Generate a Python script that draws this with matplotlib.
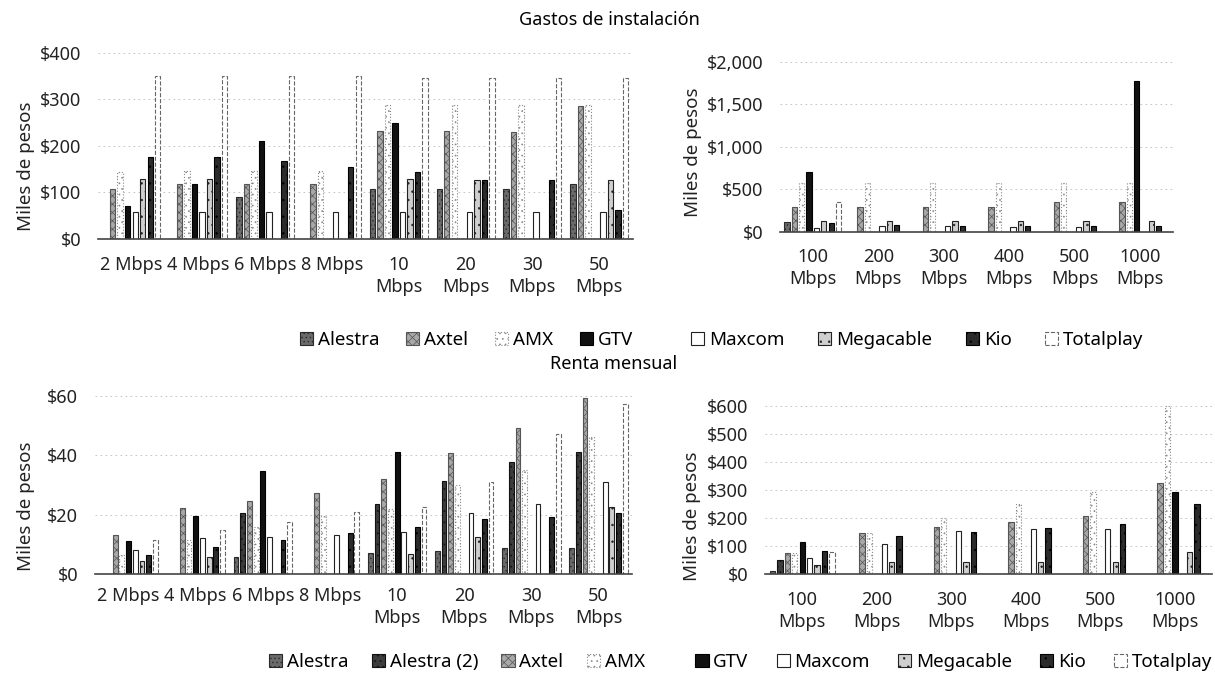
import matplotlib
matplotlib.use("Agg")
from matplotlib import pyplot as plt
from matplotlib.patches import Patch
from matplotlib.ticker import FuncFormatter
import numpy as np

plt.rcParams['font.family'] = ['Noto Sans', 'DejaVu Sans']
plt.rcParams['hatch.linewidth'] = 0.5

# Gastos de instalacion, velocidades bajas
inst_cats_low = ['2 Mbps', '4 Mbps', '6 Mbps', '8 Mbps', '10\nMbps', '20\nMbps', '30\nMbps', '50\nMbps']
inst_low_alestra = [0, 0, 91, 0, 107, 107, 107, 118]
inst_low_axtel = [107, 118, 118, 118, 233, 233, 231, 285]
inst_low_amx = [145, 147, 147, 147, 289, 289, 289, 289]
inst_low_gtv = [70, 118, 211, 0, 249, 0, 0, 0]
inst_low_maxcom = [59, 59, 57, 57, 57, 57, 57, 57]
inst_low_megacable = [128, 128, 0, 0, 128, 127, 0, 127]
inst_low_kio = [176, 176, 167, 154, 145, 127, 127, 62]
inst_low_totalplay = [350, 350, 350, 350, 346, 346, 346, 346]

# Gastos de instalacion, velocidades altas
inst_cats_high = ['100\nMbps', '200\nMbps', '300\nMbps', '400\nMbps', '500\nMbps', '1000\nMbps']
inst_high_alestra = [118, 0, 0, 0, 0, 0]
inst_high_axtel = [294, 294, 294, 294, 345, 345]
inst_high_amx = [576, 576, 576, 576, 576, 576]
inst_high_gtv = [706, 0, 0, 0, 0, 1776]
inst_high_maxcom = [47, 67, 67, 59, 59, 0]
inst_high_megacable = [129, 129, 129, 129, 129, 129]
inst_high_kio = [106, 78, 70, 70, 70, 70]
inst_high_totalplay = [345, 0, 0, 0, 0, 0]

# Renta mensual, velocidades bajas
renta_cats_low = inst_cats_low
renta_low_alestra = [0, 0, 5.8, 0, 7.0, 7.9, 8.9, 8.9]
renta_low_alestra2 = [0, 0, 20.6, 0, 23.6, 31.4, 37.8, 40.9]
renta_low_axtel = [13.1, 22.1, 24.7, 27.1, 32.0, 40.6, 49.2, 59.1]
renta_low_amx = [6.4, 11.4, 15.9, 19.5, 21.9, 29.9, 35.0, 46.2]
renta_low_gtv = [11.2, 19.5, 34.8, 0, 41.2, 0, 0, 0]
renta_low_maxcom = [8.1, 12.0, 12.6, 13.3, 14.2, 20.6, 23.6, 31.1]
renta_low_megacable = [4.5, 5.8, 0, 0, 6.7, 12.6, 0, 22.7]
renta_low_kio = [6.4, 9.0, 11.4, 13.9, 15.9, 18.5, 19.3, 20.4]
renta_low_totalplay = [11.4, 14.8, 17.6, 21.0, 22.7, 31.1, 47.0, 57.2]

# Renta mensual, velocidades altas
renta_cats_high = inst_cats_high
renta_high_alestra = [13, 0, 0, 0, 0, 0]
renta_high_alestra2 = [51, 0, 0, 0, 0, 0]
renta_high_axtel = [77, 146, 170, 188, 208, 324]
renta_high_amx = [77, 146, 200, 251, 295, 600]
renta_high_gtv = [116, 0, 0, 0, 0, 295]
renta_high_maxcom = [57, 108, 154, 160, 162, 0]
renta_high_megacable = [32, 45, 45, 45, 45, 81]
renta_high_kio = [84, 138, 150, 166, 179, 250]
renta_high_totalplay = [78, 0, 0, 0, 0, 0]

estilos = {
    'Alestra': dict(facecolor='#6a6a6a', edgecolor='#2a2a2a', hatch='....'),
    'Alestra (2)': dict(facecolor='#3c3c3c', edgecolor='#111111', hatch='...'),
    'Axtel': dict(facecolor='#a8a8a8', edgecolor='#555555', hatch='xxxx'),
    'AMX': dict(facecolor='white', edgecolor='#8a8a8a', hatch='...', linestyle=':'),
    'GTV': dict(facecolor='#111111', edgecolor='#000000'),
    'Maxcom': dict(facecolor='white', edgecolor='#222222'),
    'Megacable': dict(facecolor='#cfcfcf', edgecolor='#222222', hatch='..'),
    'Kio': dict(facecolor='#2b2b2b', edgecolor='#000000', hatch='..'),
    'Totalplay': dict(facecolor='white', edgecolor='#666666', linestyle='--'),
}


def dibujar(ax, cats, series, ymax, paso, xpad, lab_xy):
    n = len(series)
    x = np.arange(len(cats))
    total = 0.9
    pitch = total / n
    for i, (nombre, vals) in enumerate(series):
        pos = x - total / 2 + pitch * (i + 0.5)
        ax.bar(pos, vals, width=pitch * 0.72, linewidth=0.8, **estilos[nombre])
    ax.set_xlim(-0.5, len(cats) - 0.5)
    ax.set_ylim(0, ymax)
    ax.set_yticks(np.arange(0, ymax + 1, paso))
    ax.yaxis.set_major_formatter(FuncFormatter(lambda v, p: '${:,.0f}'.format(v)))
    ax.set_xticks(x)
    ax.set_xticklabels(cats, fontsize=13, linespacing=1.3)
    ax.tick_params(axis='both', length=0, labelsize=13, colors='#222222')
    ax.tick_params(axis='x', pad=xpad)
    ax.tick_params(axis='y', pad=12)
    for s in ['top', 'right', 'left']:
        ax.spines[s].set_visible(False)
    ax.spines['bottom'].set_color('#444444')
    ax.spines['bottom'].set_linewidth(1.2)
    ax.yaxis.grid(True, color='#bbbbbb', linestyle=(0, (2, 4)), linewidth=0.6)
    ax.set_axisbelow(True)
    ax.set_ylabel('Miles de pesos', fontsize=13.5, color='#222222')
    ax.yaxis.set_label_coords(*lab_xy)
    ax.yaxis.label.set_va('center')


fig = plt.figure(figsize=(12.15, 6.79), dpi=100)

ax1 = fig.add_axes([0.0807, 0.648, 0.440, 0.274])
dibujar(ax1, inst_cats_low, [
    ('Alestra', inst_low_alestra), ('Axtel', inst_low_axtel), ('AMX', inst_low_amx),
    ('GTV', inst_low_gtv), ('Maxcom', inst_low_maxcom), ('Megacable', inst_low_megacable),
    ('Kio', inst_low_kio), ('Totalplay', inst_low_totalplay)], 400, 100, 12, (-0.135, 0.39))

ax2 = fig.add_axes([0.642, 0.659, 0.3235, 0.250])
dibujar(ax2, inst_cats_high, [
    ('Alestra', inst_high_alestra), ('Axtel', inst_high_axtel), ('AMX', inst_high_amx),
    ('GTV', inst_high_gtv), ('Maxcom', inst_high_maxcom), ('Megacable', inst_high_megacable),
    ('Kio', inst_high_kio), ('Totalplay', inst_high_totalplay)], 2000, 500, 12, (-0.221, 0.47))

ax3 = fig.add_axes([0.0782, 0.1546, 0.442, 0.2626])
dibujar(ax3, renta_cats_low, [
    ('Alestra', renta_low_alestra), ('Alestra (2)', renta_low_alestra2), ('Axtel', renta_low_axtel),
    ('AMX', renta_low_amx), ('GTV', renta_low_gtv), ('Maxcom', renta_low_maxcom),
    ('Megacable', renta_low_megacable), ('Kio', renta_low_kio), ('Totalplay', renta_low_totalplay)],
    60, 20, 9, (-0.128, 0.38))

ax4 = fig.add_axes([0.6296, 0.1542, 0.368, 0.248])
dibujar(ax4, renta_cats_high, [
    ('Alestra', renta_high_alestra), ('Alestra (2)', renta_high_alestra2), ('Axtel', renta_high_axtel),
    ('AMX', renta_high_amx), ('GTV', renta_high_gtv), ('Maxcom', renta_high_maxcom),
    ('Megacable', renta_high_megacable), ('Kio', renta_high_kio), ('Totalplay', renta_high_totalplay)],
    600, 100, 12, (-0.163, 0.345))

fig.text(0.502, 0.970, 'Gastos de instalación', ha='center', va='center', fontsize=13)
fig.text(0.505, 0.464, 'Renta mensual', ha='center', va='center', fontsize=13)


def leyenda(nombres, cx, cy, esp):
    handles = [Patch(label=n, linewidth=0.8, **estilos[n]) for n in nombres]
    fig.legend(handles=handles, loc='center', bbox_to_anchor=(cx, cy), ncol=len(nombres),
               frameon=False, fontsize=13.5, handlelength=0.7, handleheight=0.7,
               handletextpad=0.25, columnspacing=esp, borderaxespad=0)


leyenda(['Alestra', 'Axtel', 'AMX', 'GTV'], 0.384, 0.499, 1.45)
leyenda(['Maxcom', 'Megacable', 'Kio', 'Totalplay'], 0.755, 0.499, 1.8)
leyenda(['Alestra', 'Alestra (2)', 'Axtel', 'AMX'], 0.376, 0.025, 1.25)
leyenda(['GTV', 'Maxcom', 'Megacable', 'Kio', 'Totalplay'], 0.785, 0.025, 1.5)

fig.savefig('out.png', dpi=100)
plt.close(fig)
